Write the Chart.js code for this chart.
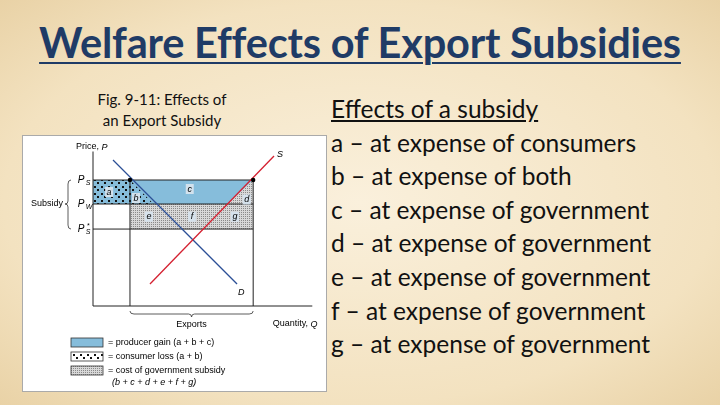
<!DOCTYPE html>
<html><head><meta charset="utf-8">
<script src="https://cdn.jsdelivr.net/npm/chart.js@4"></script>
<style>
body{margin:0;width:720px;height:405px;overflow:hidden;font-family:Lato,"Open Sans",sans-serif;
background:radial-gradient(ellipse at center,#faf0dc 0%,#f3e2c0 70%,#e9d2a6 100%);position:relative}
#title{position:absolute;left:0;width:720px;top:17px;text-align:center;font-size:41.5px;font-weight:bold;color:#1f3b66;text-decoration:underline;text-decoration-thickness:2px;text-underline-offset:4px;letter-spacing:-0.2px}
#cap{position:absolute;left:62px;width:200px;top:89px;text-align:center;font-size:15px;line-height:21px;color:#111}
#right{position:absolute;left:331px;top:92px;font-size:24.5px;line-height:33.6px;color:#111}
#fig{position:absolute;left:22px;top:135px;width:303px;height:255px;background:#fff;border:1px solid #aaa}
</style></head><body>
<div id="title">Welfare Effects of Export Subsidies</div>
<div id="cap">Fig. 9-11: Effects of<br>an Export Subsidy</div>
<div id="right"><u>Effects of a subsidy</u><br>a – at expense of consumers<br>b – at expense of both<br>c – at expense of government<br>d – at expense of government<br>e – at expense of government<br>f – at expense of government<br>g – at expense of government</div>
<div id="fig"><canvas id="c" width="303" height="255"></canvas></div>
<script>
const demandLine=[{x:0.93,y:9.73},{x:6.7,y:1.47}];
const supplyLine=[{x:2.65,y:1.47},{x:8.42,y:10}];
const priceLevels={Ps:8.4,Pw:6.8,PsStar:5.13};
const exportRange=[1.72,7.45];
const producerGain=[{x:0,y:6.8},{x:0,y:8.4},{x:7.45,y:8.4},{x:6.26,y:6.8}];
const subsidyCost=[{x:1.72,y:5.13},{x:1.72,y:6.8},{x:7.45,y:6.8},{x:7.45,y:5.13}];
const subsidyTriangle=[{x:6.26,y:6.8},{x:7.45,y:8.4},{x:7.45,y:6.8}];
const consumerLoss=[{x:0,y:6.8},{x:0,y:8.4},{x:1.72,y:8.4},{x:2.81,y:6.8}];
const areaLabels=[{t:'a',x:0.75,y:7.6},{t:'b',x:2.0,y:7.2},{t:'c',x:4.5,y:7.8},{t:'d',x:7.15,y:7.1},{t:'e',x:2.6,y:5.95},{t:'f',x:4.6,y:5.95},{t:'g',x:6.6,y:5.95}];

const ctx0=document.getElementById('c').getContext('2d');
function hatch(){const p=document.createElement('canvas');p.width=p.height=4;const g=p.getContext('2d');
g.fillStyle='#d8d8d8';g.fillRect(0,0,4,4);g.fillStyle='#8a8a8a';g.fillRect(0,0,1,1);g.fillRect(2,2,1,1);g.fillRect(2,0,1,1);g.fillRect(0,2,1,1);
return ctx0.createPattern(p,'repeat');}
function dots(){const p=document.createElement('canvas');p.width=p.height=7;const g=p.getContext('2d');
g.fillStyle='#111';g.fillRect(1,1,2,2);g.fillRect(4,4,2,2);return ctx0.createPattern(p,'repeat');}
const hatchP=hatch(), dotP=dots();
const fills={id:'fills',beforeDatasetsDraw(ch){
 const c=ch.ctx,X=ch.scales.x,Y=ch.scales.y;
 const draw=(d,f)=>{c.beginPath();d.forEach((p,i)=>{const a=X.getPixelForValue(p.x),b=Y.getPixelForValue(p.y);i?c.lineTo(a,b):c.moveTo(a,b);});c.closePath();c.fillStyle=f;c.fill();};
 c.save();draw(subsidyCost,hatchP);draw(subsidyTriangle,hatchP);draw(producerGain,'#86bddb');draw(consumerLoss,dotP);c.restore();}};
const overlay={id:'ov',afterDatasetsDraw(ch){
 const c=ch.ctx,X=ch.scales.x,Y=ch.scales.y,px=v=>X.getPixelForValue(v),py=v=>Y.getPixelForValue(v);
 c.save();c.strokeStyle='#222';c.lineWidth=1;
 c.beginPath();c.moveTo(px(0),py(10.3));c.lineTo(px(0),py(0));c.lineTo(px(10.2),py(0));
 [priceLevels.Ps,priceLevels.Pw,priceLevels.PsStar].forEach(v=>{c.moveTo(px(0),py(v));c.lineTo(px(exportRange[1]),py(v));});
 exportRange.forEach(v=>{c.moveTo(px(v),py(priceLevels.Ps));c.lineTo(px(v),py(0));});c.stroke();
 c.strokeStyle='#2b4f96';c.lineWidth=1.3;c.beginPath();c.moveTo(px(demandLine[0].x),py(demandLine[0].y));c.lineTo(px(demandLine[1].x),py(demandLine[1].y));c.stroke();
 c.strokeStyle='#d42030';c.beginPath();c.moveTo(px(supplyLine[0].x),py(supplyLine[0].y));c.lineTo(px(supplyLine[1].x),py(supplyLine[1].y));c.stroke();
 c.fillStyle='#000';[[exportRange[0],priceLevels.Ps],[exportRange[1],priceLevels.Ps]].forEach(p=>{c.beginPath();c.arc(px(p[0]),py(p[1]),2.2,0,7);c.fill();});
 c.textAlign='center';c.textBaseline='middle';
 areaLabels.forEach(l=>{const w=8;c.fillStyle='rgba(215,228,238,0.95)';c.fillRect(px(l.x)-w/2,py(l.y)-5,w,10);c.fillStyle='#000';c.font='italic 9px "Liberation Sans"';c.fillText(l.t,px(l.x),py(l.y));});
 c.textAlign='left';c.font='9px "Liberation Sans"';const pw=c.measureText('Price, ').width;c.fillText('Price, ',px(0)-17,py(10.6));c.font='italic 9px "Liberation Sans"';c.fillText('P',px(0)-17+pw,py(10.6));
 c.font='9px "Liberation Sans"';const qw=c.measureText('Quantity, ').width;c.fillText('Quantity, ',px(10.4)-qw-6,py(-1.2));c.font='italic 9px "Liberation Sans"';c.fillText('Q',px(10.4)-6,py(-1.2));
 c.textAlign='center';c.fillText('S',px(8.7),py(10.1));c.fillText('D',px(6.9),py(0.9));
 c.font='italic 10px "Liberation Sans"';c.fillText('P',px(0)-12,py(priceLevels.Ps));c.fillText('P',px(0)-12,py(priceLevels.Pw));c.fillText('P',px(0)-12,py(priceLevels.PsStar));
 c.font='italic 7px "Liberation Sans"';c.fillText('S',px(0)-5,py(priceLevels.Ps)+3);c.fillText('W',px(0)-4,py(priceLevels.Pw)+3);c.fillText('S',px(0)-5,py(priceLevels.PsStar)+3);c.fillText('*',px(0)-5,py(priceLevels.PsStar)-3);
 c.font='9px "Liberation Sans"';c.textAlign='right';c.fillText('Subsidy',px(0)-30,py(priceLevels.Pw));
 c.strokeStyle='#333';c.lineWidth=0.8;const bx=px(0)-25,t=py(priceLevels.Ps),m=py(priceLevels.Pw),b=py(priceLevels.PsStar);
 c.beginPath();c.moveTo(bx+3,t);c.quadraticCurveTo(bx,t,bx,t+4);c.lineTo(bx,m-3);c.quadraticCurveTo(bx,m,bx-3,m);c.quadraticCurveTo(bx,m,bx,m+3);c.lineTo(bx,b-4);c.quadraticCurveTo(bx,b,bx+3,b);c.stroke();
 const ly=py(0)+5,l0=px(exportRange[0]),l1=px(exportRange[1]),mid=(l0+l1)/2;
 c.beginPath();c.moveTo(l0,ly);c.quadraticCurveTo(l0,ly+3,l0+4,ly+3);c.lineTo(mid-3,ly+3);c.quadraticCurveTo(mid,ly+3,mid,ly+6);c.quadraticCurveTo(mid,ly+3,mid+3,ly+3);c.lineTo(l1-4,ly+3);c.quadraticCurveTo(l1,ly+3,l1,ly);c.stroke();
 c.textAlign='center';c.fillStyle='#000';c.fillText('Exports',mid,ly+14);
 const lx=px(0)-22,items=[['= producer gain (a + b + c)','blue'],['= consumer loss (a + b)','dots'],['= cost of government subsidy','hatch']];
 items.forEach((it,i)=>{const yy=ly+27+i*14;c.fillStyle=it[1]==='blue'?'#86bddb':it[1]==='dots'?'#fff':hatchP;c.fillRect(lx,yy,32,9);if(it[1]==='dots'){c.fillStyle=dotP;c.fillRect(lx,yy,32,9);}c.strokeStyle='#333';c.strokeRect(lx,yy,32,9);
  c.fillStyle='#000';c.textAlign='left';c.font='9px "Liberation Sans"';c.fillText(it[0],lx+37,yy+5);});
 c.font='italic 9px "Liberation Sans"';c.fillText('(b + c + d + e + f + g)',lx+41,ly+27+2*14+16);
 c.restore();}};
new Chart(document.getElementById('c'),{type:'scatter',
 data:{datasets:[{data:[...producerGain,...subsidyCost],pointRadius:0,showLine:false}]},
 options:{responsive:false,animation:false,events:[],layout:{padding:{left:70,right:18,top:20,bottom:85}},
  plugins:{legend:{display:false},tooltip:{enabled:false}},
  scales:{x:{type:'linear',min:0,max:10,display:false},y:{type:'linear',min:0,max:10,display:false}}},
 plugins:[fills,overlay]});
</script></body></html>
